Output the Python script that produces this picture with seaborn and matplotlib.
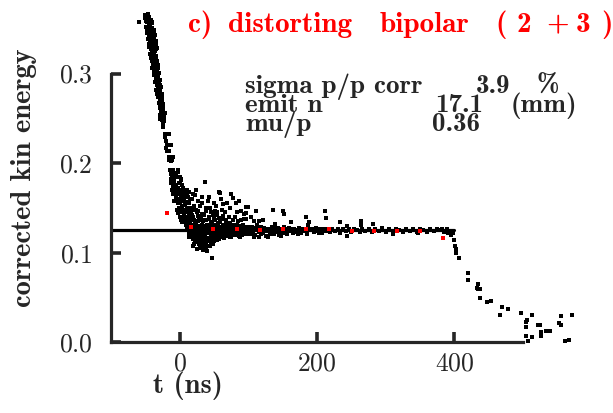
import matplotlib
matplotlib.use('Agg')
import matplotlib.pyplot as plt
import seaborn as sns
import pandas as pd

# ---- data: (t [ns], corrected kin energy) ----
drop_pts = [
    (-59, 0.358), (-50, 0.365), (-48, 0.362), (-46, 0.366), (-44, 0.363), (-42, 0.360), (-47, 0.357),
    (-45, 0.355), (-43, 0.358), (-40, 0.356), (-49, 0.352), (-46, 0.350), (-44, 0.348), (-41, 0.351),
    (-38, 0.349), (-47, 0.345), (-45, 0.342), (-42, 0.344), (-39, 0.341), (-36, 0.343), (-46, 0.338),
    (-43, 0.335), (-41, 0.337), (-38, 0.333), (-35, 0.336), (-44, 0.330), (-42, 0.327), (-39, 0.329),
    (-36, 0.325), (-33, 0.328), (-43, 0.322), (-40, 0.319), (-37, 0.321), (-34, 0.317), (-41, 0.314),
    (-39, 0.311), (-36, 0.313), (-32, 0.310), (-40, 0.306), (-37, 0.303), (-34, 0.305), (-30, 0.301),
    (-38, 0.298), (-35, 0.295), (-32, 0.297), (-29, 0.293), (-36, 0.290), (-33, 0.287), (-30, 0.289),
    (-27, 0.285), (-34, 0.282), (-31, 0.279), (-28, 0.281), (-26, 0.277), (-32, 0.274), (-29, 0.271),
    (-26, 0.273), (-30, 0.267), (-27, 0.264), (-25, 0.266), (-28, 0.261), (-26, 0.258), (-24, 0.262),
    (-29, 0.254), (-27, 0.251), (-27.8, 0.257), (-25.3, 0.255), (-21.9, 0.256), (-23.8, 0.254),
    (-29.2, 0.249), (-22.9, 0.247), (-24.9, 0.245), (-23.8, 0.240), (-21.9, 0.232), (-16, 0.233),
    (-21.9, 0.229), (-19.4, 0.225), (-18, 0.220), (-12, 0.220), (-20, 0.217), (-18, 0.214), (-15, 0.213),
    (-16, 0.207), (-10, 0.207), (-13, 0.202), (-10.7, 0.204), (-15, 0.204), (-10, 0.192), (-5.8, 0.189),
    (-1.9, 0.190), (-13, 0.188), (-11.7, 0.186), (-12, 0.182), (1.5, 0.182), (-13.6, 0.192), (-9.8, 0.188),
    (-2.5, 0.192),
    (-51, 0.362), (-49, 0.359), (-47, 0.363), (-45, 0.360), (-43, 0.354), (-41, 0.357), (-48, 0.348),
    (-46, 0.346), (-43, 0.349), (-40, 0.346), (-37, 0.345), (-44, 0.340), (-41, 0.342), (-38, 0.338),
    (-45, 0.333), (-40, 0.332), (-37, 0.330), (-34, 0.332), (-41, 0.325), (-38, 0.323), (-35, 0.327),
    (-42, 0.317), (-38, 0.315), (-35, 0.319), (-33, 0.314), (-38, 0.308), (-36, 0.307), (-33, 0.302),
    (-31, 0.306), (-36, 0.300), (-33, 0.292), (-31, 0.295), (-34, 0.291), (-31, 0.284), (-29, 0.287),
    (-33, 0.277), (-30, 0.275), (-28, 0.270), (-27, 0.276), (-29, 0.263), (-26, 0.268), (-25, 0.259),
    (-23, 0.251), (-26, 0.248),
]

cloud_pts = [
    (-12, 0.178), (-10, 0.174), (-8, 0.180), (-7, 0.170), (-5, 0.176), (-4, 0.166), (-2, 0.172), (-1, 0.160),
    (0, 0.168), (1, 0.155), (2, 0.163), (3, 0.176), (4, 0.150), (5, 0.158), (6, 0.170), (7, 0.146),
    (8, 0.153), (9, 0.162), (-9, 0.165), (-6, 0.160), (-3, 0.155), (-8, 0.158), (-11, 0.170), (-6, 0.184),
    (10, 0.140), (11, 0.148), (12, 0.157), (13, 0.168), (-4, 0.148), (-2, 0.144), (0, 0.140), (2, 0.137),
    (4, 0.134), (0, 0.185), (1, 0.178), (2, 0.170), (3, 0.165), (4, 0.160), (5, 0.172), (6, 0.148),
    (7, 0.142), (8, 0.165), (9, 0.138), (10, 0.150), (1, 0.150), (3, 0.145), (5, 0.139), (7, 0.158),
    (9, 0.131), (11, 0.128), (12, 0.135), (13, 0.142), (14, 0.122), (15, 0.150), (16, 0.118), (17, 0.131),
    (18, 0.160), (19, 0.125), (20, 0.140), (12, 0.162), (14, 0.155), (16, 0.145), (18, 0.120), (20, 0.115),
    (11, 0.170), (15, 0.126), (17, 0.138), (19, 0.148), (13, 0.118), (21, 0.110), (22, 0.128), (23, 0.134),
    (24, 0.119), (25, 0.145), (26, 0.112), (27, 0.122), (28, 0.138), (29, 0.108), (30, 0.130), (21, 0.152),
    (23, 0.118), (25, 0.127), (27, 0.158), (29, 0.140), (22, 0.114), (24, 0.131), (26, 0.147), (28, 0.116),
    (30, 0.121), (22, 0.164), (26, 0.135), (30, 0.105), (31, 0.113), (32, 0.126), (33, 0.110), (34, 0.135),
    (35, 0.119), (36, 0.142), (37, 0.107), (38, 0.129), (39, 0.150), (40, 0.116), (31, 0.140), (33, 0.155),
    (35, 0.128), (37, 0.121), (39, 0.113), (32, 0.118), (34, 0.108), (36, 0.124), (38, 0.137), (40, 0.102),
    (36.5, 0.179), (32.6, 0.110), (32, 0.1625), (41, 0.122), (42, 0.131), (43, 0.113), (44, 0.127),
    (45, 0.145), (46, 0.118), (47, 0.133), (48, 0.124), (49, 0.110), (50, 0.139), (42, 0.115), (44, 0.150),
    (46, 0.126), (48, 0.118), (50, 0.120), (47, 0.094), (43, 0.138), (45, 0.121), (41, 0.158), (51, 0.125),
    (52, 0.131), (53, 0.117), (54, 0.128), (55, 0.142), (56, 0.121), (57, 0.168), (58, 0.127), (59, 0.134),
    (60, 0.119), (61, 0.125), (62, 0.148), (63, 0.122), (64, 0.130), (65, 0.116), (66, 0.127), (67, 0.137),
    (68, 0.124), (69, 0.155), (70, 0.121), (52, 0.120), (55, 0.129), (58, 0.115), (61, 0.138), (64, 0.124),
    (67, 0.119), (70, 0.131), (53, 0.152), (60, 0.160), (66, 0.145), (71, 0.126), (72, 0.121), (73, 0.133),
    (74, 0.124), (75, 0.118), (76, 0.129), (77, 0.161), (78, 0.123), (79, 0.127), (80, 0.140), (81, 0.120),
    (82, 0.126), (83, 0.131), (84, 0.122), (85, 0.135), (86, 0.125), (87, 0.119), (88, 0.128), (89, 0.146),
    (90, 0.123), (91, 0.126), (92, 0.131), (93, 0.121), (94, 0.127), (95, 0.138), (96, 0.151), (97, 0.124),
    (98, 0.122), (99, 0.129), (100, 0.125), (74, 0.150), (82, 0.155), (88, 0.117), (93, 0.143), (58.5, 0.167),
    (74.6, 0.166), (97, 0.144),
    (-10, 0.183), (-7, 0.176), (-4, 0.172), (-1, 0.178), (2, 0.181), (4, 0.168), (6, 0.163), (8, 0.157),
    (10, 0.163), (12, 0.145), (-5, 0.162), (-3, 0.168), (-1, 0.150), (1, 0.145), (3, 0.152), (5, 0.146),
    (7, 0.135), (9, 0.145), (11, 0.136), (13, 0.130), (14, 0.140), (15, 0.133), (16, 0.127), (17, 0.122),
    (18, 0.130), (19, 0.117), (20, 0.128), (21, 0.121), (22, 0.135), (23, 0.112), (24, 0.125), (25, 0.116),
    (26, 0.129), (27, 0.113), (28, 0.124), (29, 0.118), (30, 0.136), (31, 0.121), (32, 0.131), (33, 0.116),
    (34, 0.123), (35, 0.112), (36, 0.117), (37, 0.130), (38, 0.111), (39, 0.124), (40, 0.131), (41, 0.113),
    (42, 0.123), (43, 0.127), (44, 0.116), (45, 0.112), (46, 0.134), (47, 0.120), (48, 0.130), (49, 0.126),
    (50, 0.113), (51, 0.118), (52, 0.124), (53, 0.128), (54, 0.114), (55, 0.122), (56, 0.133), (57, 0.124),
    (58, 0.120), (59, 0.126), (60, 0.129), (61, 0.118), (62, 0.126), (63, 0.131), (64, 0.119), (65, 0.127),
    (66, 0.121), (67, 0.125), (68, 0.130), (69, 0.120), (70, 0.126), (71, 0.133), (72, 0.127), (73, 0.118),
    (74, 0.129), (75, 0.125), (76, 0.121), (77, 0.127), (78, 0.131), (79, 0.120), (80, 0.126), (81, 0.129),
    (82, 0.121), (83, 0.124), (84, 0.128), (85, 0.120), (86, 0.130), (87, 0.124), (88, 0.122), (89, 0.127),
    (90, 0.129), (91, 0.120), (92, 0.125), (93, 0.127), (94, 0.122), (95, 0.126), (96, 0.123), (97, 0.129),
    (98, 0.126), (99, 0.121), (15, 0.160), (18, 0.142), (21, 0.137), (24, 0.148), (27, 0.141), (29, 0.152),
    (33, 0.143), (35, 0.137), (38, 0.146), (42, 0.140), (45, 0.131), (48, 0.142), (51, 0.136), (54, 0.145),
    (57, 0.139), (63, 0.141), (68, 0.134), (72, 0.140), (78, 0.137), (84, 0.145), (90, 0.136), (20, 0.108),
    (25, 0.104), (28, 0.110), (34, 0.103), (38, 0.106), (44, 0.108), (24, 0.170), (19, 0.166), (43, 0.162),
    (52, 0.147), (63, 0.154), (86, 0.158), (50, 0.156),
]

band_pts = [
    (101, 0.127), (103, 0.122), (105, 0.129), (107, 0.124), (109, 0.120), (111, 0.126), (113, 0.131),
    (115, 0.123), (117, 0.127), (119, 0.121), (121, 0.125), (123, 0.128), (125, 0.119), (127, 0.124),
    (129, 0.127), (131, 0.122), (133, 0.126), (135, 0.129), (137, 0.121), (139, 0.125), (141, 0.123),
    (143, 0.128), (145, 0.120), (147, 0.126), (149, 0.124), (151, 0.122), (153, 0.127), (155, 0.125),
    (157, 0.121), (159, 0.128), (161, 0.124), (163, 0.126), (165, 0.122), (167, 0.127), (169, 0.123),
    (171, 0.125), (174, 0.128), (177, 0.122), (180, 0.126), (183, 0.124), (186, 0.121), (189, 0.127),
    (192, 0.125), (195, 0.123), (198, 0.128), (201, 0.124), (204, 0.126), (207, 0.122), (210, 0.127),
    (213, 0.124), (216, 0.126), (219, 0.123), (222, 0.127), (226, 0.124), (230, 0.126), (234, 0.122),
    (238, 0.127), (242, 0.124), (246, 0.126), (250, 0.123), (254, 0.127), (258, 0.125), (262, 0.123),
    (266, 0.127), (270, 0.124), (275, 0.126), (280, 0.123), (285, 0.127), (290, 0.124), (295, 0.126),
    (300, 0.123), (305, 0.127), (310, 0.124), (315, 0.126), (320, 0.125), (325, 0.123), (330, 0.127),
    (335, 0.124), (340, 0.126), (345, 0.123), (350, 0.127), (355, 0.125), (360, 0.123), (365, 0.126),
    (370, 0.124), (375, 0.127), (380, 0.125), (385, 0.123), (390, 0.126), (395, 0.124), (398, 0.122),
    (102, 0.124), (106, 0.121), (110, 0.128), (114, 0.125), (118, 0.129), (122, 0.122), (126, 0.127),
    (130, 0.125), (134, 0.121), (138, 0.128), (142, 0.126), (146, 0.123), (152, 0.129), (156, 0.123),
    (160, 0.126), (166, 0.124), (172, 0.121), (178, 0.127), (185, 0.125), (194, 0.127), (203, 0.122),
    # stragglers around the band
    (99, 0.151), (111, 0.1465), (93, 0.138), (96, 0.1375), (135.5, 0.148), (150, 0.1465), (152, 0.143),
    (162, 0.134), (184, 0.140), (189, 0.134), (211, 0.146), (213, 0.139), (233, 0.134), (108.6, 0.135),
    (116, 0.135), (121, 0.1365), (104, 0.140), (139, 0.132), (108.6, 0.118), (104, 0.1205), (115, 0.117),
    (128, 0.118), (148, 0.119), (187.6, 0.131), (244, 0.130), (244, 0.119), (264.6, 0.1357), (264.6, 0.133),
    (264.6, 0.1305), (282, 0.132), (295, 0.128), (311, 0.1205), (347.5, 0.1217), (381.6, 0.127),
    (391.4, 0.1217), (395, 0.120),
]

tail_pts = [
    (399.6, 0.114), (401.6, 0.108), (403, 0.104), (403, 0.100), (407.5, 0.094), (420.6, 0.077),
    (420.6, 0.069), (435, 0.065), (432.7, 0.061), (435, 0.059), (438, 0.059), (437, 0.049), (447, 0.045),
    (452.7, 0.046), (469, 0.039), (465.9, 0.031), (478.5, 0.037), (497, 0.033), (513, 0.030),
    (505.8, 0.025), (504, 0.023), (504, 0.017), (504, 0.007), (508, 0.002), (513, 0.006), (522.5, 0.019),
    (524.5, 0.019), (526, 0.012), (525.6, 0.007), (533.6, 0.013), (539, 0.013), (555, 0.029),
    (552, 0.022), (555, 0.019), (571, 0.030), (561, 0.001), (567, 0.003),
]

red_pts = [
    (-18, 0.144), (16, 0.129), (49, 0.127), (83, 0.127), (117, 0.125), (150.6, 0.126), (184, 0.126),
    (218, 0.126), (251, 0.1245), (283, 0.1245), (317, 0.1245), (350, 0.124), (384, 0.116),
]

ref_level = 0.125
ref_t = [-100, 400]

stats_names = ['sigma p/p corr', 'emit n', 'mu/p']
stats_values = ['3.9', '17.1', '0.36']
stats_units = ['%', '(mm)', '']

# ---- style ----
sns.set_style('ticks')
plt.rcParams['font.family'] = ['cmr10', 'DejaVu Serif']
plt.rcParams['axes.formatter.use_mathtext'] = True
BOLD = ['cmb10', 'DejaVu Serif']

W, H = 613, 413
fig = plt.figure(figsize=(W / 100, H / 100), dpi=100)
ax = fig.add_axes([111 / W, 1 - 342.3 / H, (523 - 111) / W, (342.3 - 73.5) / H])

black = pd.DataFrame(drop_pts + cloud_pts + band_pts + tail_pts, columns=['t', 'e'])
red = pd.DataFrame(red_pts, columns=['t', 'e'])

ax.plot(ref_t, [ref_level, ref_level], color='black', lw=2.3, zorder=2)
sns.scatterplot(data=black, x='t', y='e', color='black', marker='s', s=5,
                linewidth=0, ax=ax, clip_on=False, zorder=3)
sns.scatterplot(data=red, x='t', y='e', color='red', marker='s', s=6,
                linewidth=0, ax=ax, clip_on=False, zorder=4)

ax.set_xlim(-100, 500)
ax.set_ylim(0, 0.3)
ax.set_xticks([0, 200, 400])
ax.set_yticks([0.0, 0.1, 0.2, 0.3])
ax.set_xlabel('')
ax.set_ylabel('')
sns.despine(ax=ax)
for side in ['left', 'bottom']:
    ax.spines[side].set_linewidth(2.3)
ax.tick_params(direction='in', length=7, width=2.6, labelsize=18.5)
ax.tick_params(axis='y', pad=13)
ax.tick_params(axis='x', pad=7)


def ftext(x, y, s, size=19.5, **kw):
    fig.text(x / W, 1 - y / H, s, va='baseline', fontsize=size, family=BOLD, **kw)


# axis labels
ftext(153, 393, 't (ns)', size=20.5)
fig.text(24 / W, 1 - 178 / H, 'corrected kin energy', rotation=90, ha='center',
         va='center', fontsize=20.5, family=BOLD)

# title pieces (wide TeX spacing)
for piece, xp in [('c)', 188), ('distorting', 228), ('bipolar', 380), ('(', 495),
                  ('2', 517), ('+', 546), ('3', 576), (')', 601)]:
    ftext(xp, 32, piece, size=21, color='red')

# stats block
rows_y = [93, 112, 131]
val_x = [476, 435, 432]
unit_x = [537, 511, 0]
for name, val, unit, yp, vx, ux in zip(stats_names, stats_values, stats_units, rows_y, val_x, unit_x):
    ftext(245, yp, name)
    ftext(vx, yp, val)
    if unit:
        ftext(ux, yp, unit)

fig.savefig('out.png', dpi=100)
